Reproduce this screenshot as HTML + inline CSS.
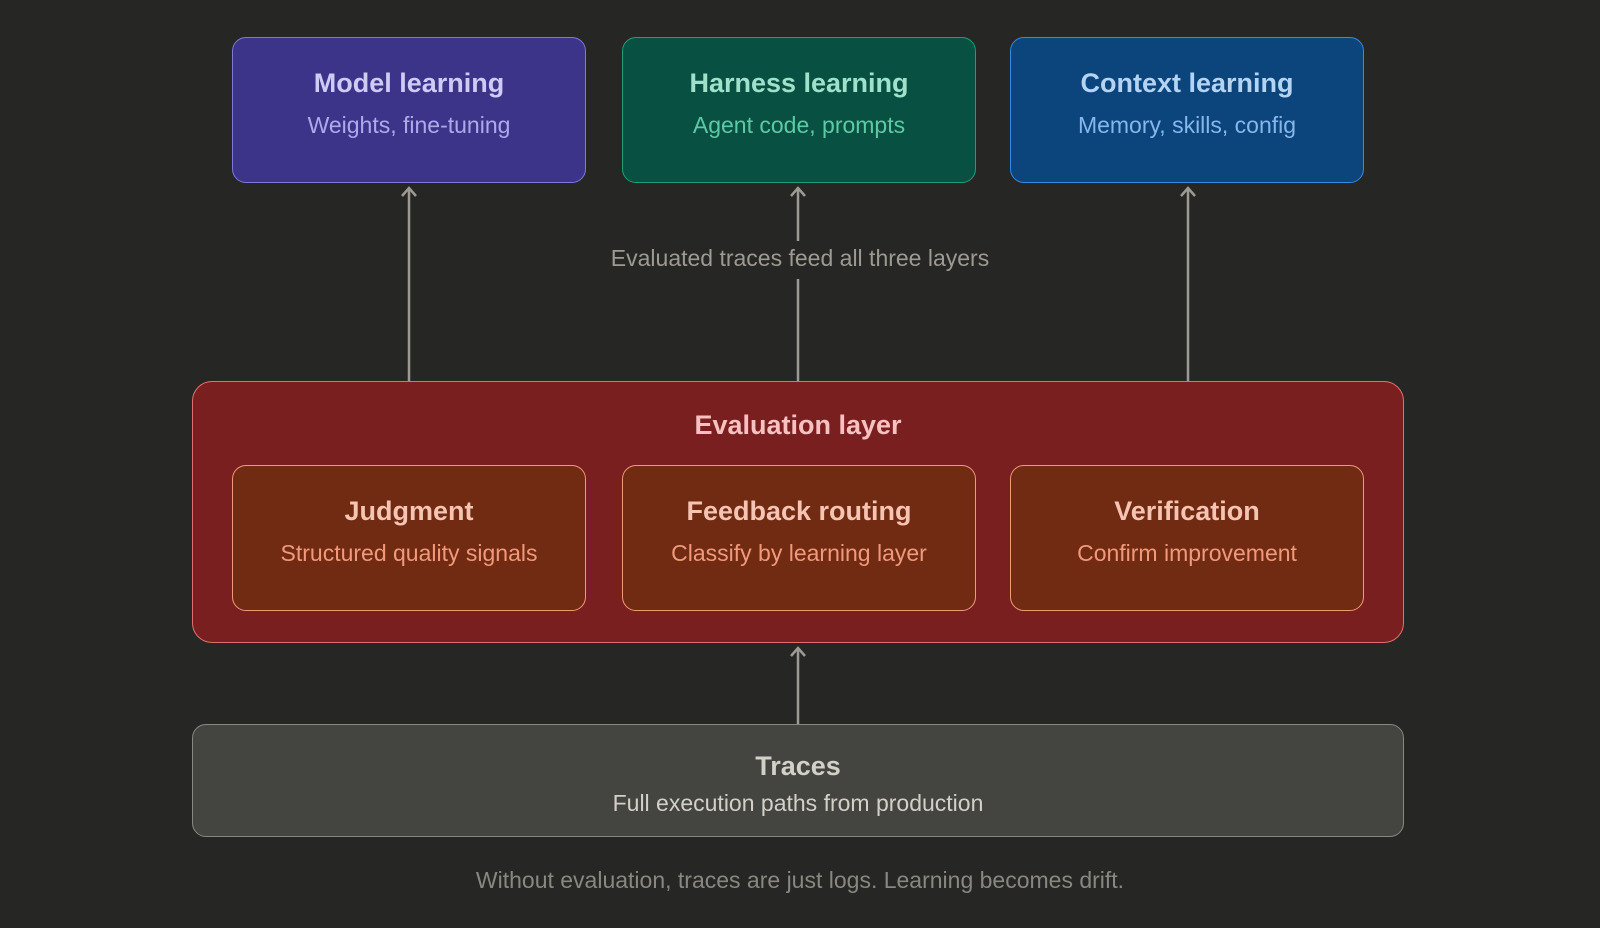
<!DOCTYPE html>
<html><head><meta charset="utf-8"><style>
html,body{margin:0;padding:0;background:#262624;}
body{width:1600px;height:928px;position:relative;overflow:hidden;font-family:"Liberation Sans",sans-serif;}
.b{position:absolute;box-sizing:border-box;border:1.5px solid;border-radius:14px;}
.t{position:absolute;left:0;right:0;text-align:center;font-weight:bold;font-size:27px;}
.s{position:absolute;left:0;right:0;text-align:center;font-size:23px;}
</style></head><body>
<svg width="1600" height="928" style="position:absolute;left:0;top:0">
<g stroke="#9c9a92" stroke-width="2.5" fill="none">
<line x1="409" y1="381" x2="409" y2="188"/><polyline points="402,196 409,188 416,196"/>
<line x1="798" y1="241" x2="798" y2="188"/><line x1="798" y1="279" x2="798" y2="381"/><polyline points="791,196 798,188 805,196"/>
<line x1="1188" y1="381" x2="1188" y2="188"/><polyline points="1181,196 1188,188 1195,196"/>
<line x1="798" y1="724" x2="798" y2="648"/><polyline points="791,656 798,648 805,656"/>
</g></svg>
<div class="b" style="left:232px;top:37px;width:354px;height:146px;background:#3c3489;border-color:#7f77dd">
<div class="t" style="top:30px;color:#cecbf6">Model learning</div><div class="s" style="top:74px;color:#afa9ec">Weights, fine-tuning</div></div>
<div class="b" style="left:622px;top:37px;width:354px;height:146px;background:#085041;border-color:#1d9e75">
<div class="t" style="top:30px;color:#9fe1cb">Harness learning</div><div class="s" style="top:74px;color:#5dcaa5">Agent code, prompts</div></div>
<div class="b" style="left:1010px;top:37px;width:354px;height:146px;background:#0c447c;border-color:#378add">
<div class="t" style="top:30px;color:#b5d4f4">Context learning</div><div class="s" style="top:74px;color:#85b7eb">Memory, skills, config</div></div>
<div style="position:absolute;left:0;right:0;top:245px;text-align:center;font-size:23px;color:#9c9a92">Evaluated traces feed all three layers</div>
<div class="b" style="left:192px;top:381px;width:1212px;height:262px;background:#791f1f;border-color:#e07070;border-radius:20px">
<div class="t" style="top:28px;color:#f7c1c1">Evaluation layer</div></div>
<div class="b" style="left:232px;top:465px;width:354px;height:146px;background:#712b13;border-color:#f0997b">
<div class="t" style="top:30px;color:#f5c4b3">Judgment</div><div class="s" style="top:74px;color:#f0997b">Structured quality signals</div></div>
<div class="b" style="left:622px;top:465px;width:354px;height:146px;background:#712b13;border-color:#f0997b">
<div class="t" style="top:30px;color:#f5c4b3">Feedback routing</div><div class="s" style="top:74px;color:#f0997b">Classify by learning layer</div></div>
<div class="b" style="left:1010px;top:465px;width:354px;height:146px;background:#712b13;border-color:#f0997b">
<div class="t" style="top:30px;color:#f5c4b3">Verification</div><div class="s" style="top:74px;color:#f0997b">Confirm improvement</div></div>
<div class="b" style="left:192px;top:724px;width:1212px;height:113px;background:#444441;border-color:#888780">
<div class="t" style="top:26px;color:#d3d1c7">Traces</div><div class="s" style="top:65px;color:#d3d1c7">Full execution paths from production</div></div>
<div style="position:absolute;left:0;right:0;top:867px;text-align:center;font-size:23px;color:#888780">Without evaluation, traces are just logs. Learning becomes drift.</div>
</body></html>
